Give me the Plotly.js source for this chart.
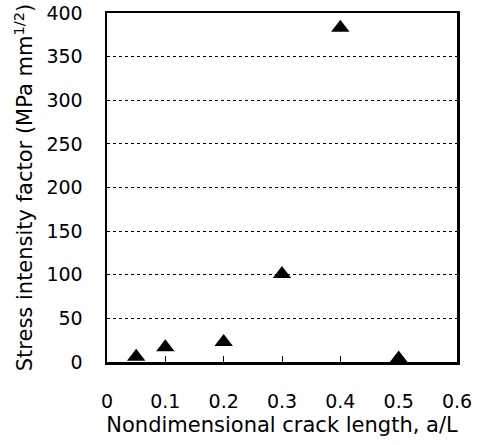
<!DOCTYPE html>
<html><head><meta charset="utf-8">
<script src="https://cdn.plot.ly/plotly-3.0.1.min.js"></script>
<style>html,body{margin:0;padding:0;background:#fff}</style>
</head><body><div id="chart" style="width:487px;height:445px"></div>
<script>
const crackLength = [0.05, 0.1, 0.2, 0.3, 0.4, 0.5];
const stressIntensity = [6, 17, 23, 101, 383, 4];
const xTicks = [0, 0.1, 0.2, 0.3, 0.4, 0.5, 0.6];
const yTicks = [0, 50, 100, 150, 200, 250, 300, 350, 400];

const tickFnt = {family: 'DejaVu Sans, Arial, sans-serif', size: 19, color: '#000'};
const titleFnt = {family: 'DejaVu Sans, Arial, sans-serif', size: 21, color: '#000'};
Plotly.newPlot('chart', [{
  x: crackLength, y: stressIntensity, type: 'scatter', mode: 'markers',
  marker: {symbol: 'triangle-up', size: 16, color: '#000'}, cliponaxis: false
}], {
  width: 487, height: 445,
  margin: {l: 107, r: 30, t: 13, b: 83},
  paper_bgcolor: '#fff', plot_bgcolor: '#fff',
  showlegend: false,
  font: tickFnt,
  xaxis: {range: [0, 0.6], tickvals: xTicks, ticktext: xTicks.map(String),
    showgrid: false, zeroline: false, showline: true, mirror: true, linecolor: '#000', linewidth: 2.5,
    ticks: 'inside', ticklen: 6, tickwidth: 1, tickcolor: '#000', tickfont: tickFnt,
    ticklabelstandoff: 21,
    title: {text: 'Nondimensional crack length, a/L', font: titleFnt, standoff: 6}},
  yaxis: {range: [0, 400], tickvals: yTicks, ticktext: yTicks.map(String),
    showgrid: true, gridcolor: '#000', griddash: 'dot', gridwidth: 1,
    zeroline: false, showline: true, mirror: true, linecolor: '#000', linewidth: 2.5,
    ticks: '', tickfont: tickFnt, ticklabelstandoff: 18,
    title: {text: 'Stress intensity factor (MPa mm<sup>1/2</sup>)', font: titleFnt, standoff: 8}}
}, {displayModeBar: false, staticPlot: true});
</script></body></html>
